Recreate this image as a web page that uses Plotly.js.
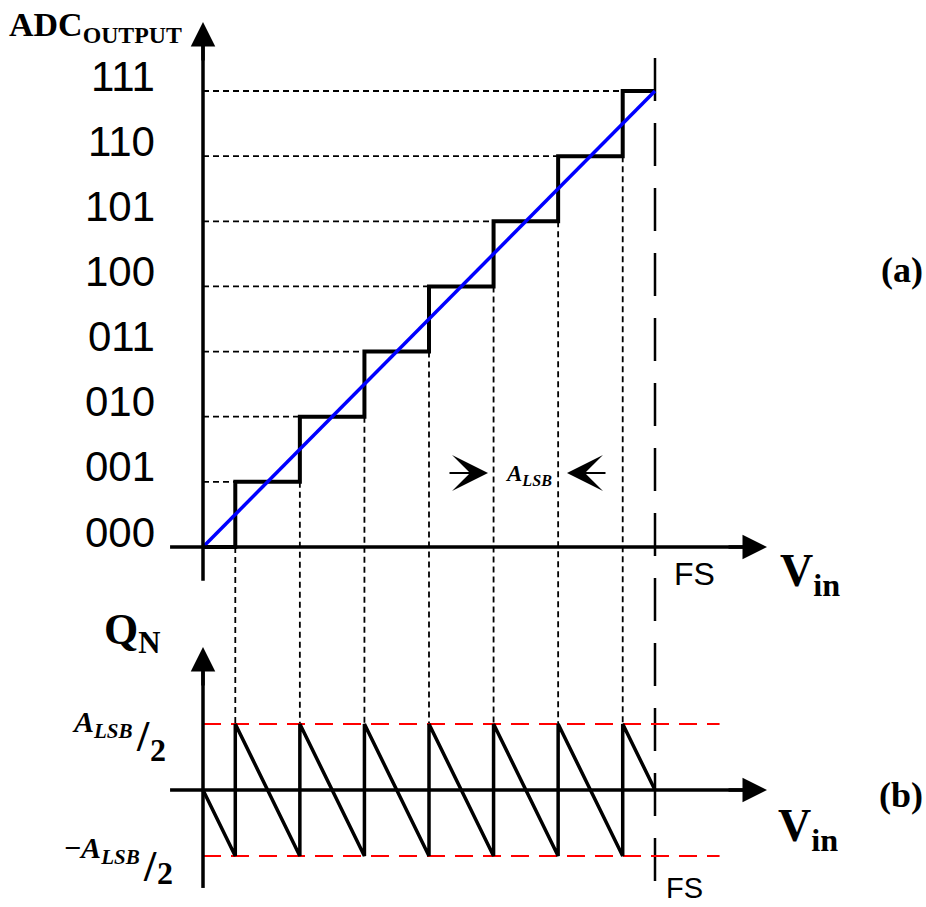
<!DOCTYPE html>
<html><head><meta charset="utf-8">
<script src="https://cdn.plot.ly/plotly-3.0.1.min.js"></script>
<style>html,body{margin:0;padding:0;background:#fff;} #chart{width:926px;height:907px;}</style>
</head><body><div id="chart"></div>
<script>
// ---------------- data ----------------
const codeLabels  = ['000','001','010','011','100','101','110','111'];
const codeValues  = [0,1,2,3,4,5,6,7];
const transitions = [0.5,1.5,2.5,3.5,4.5,5.5,6.5];          // Vin (in LSB) where the code steps up
const fullScale   = 7;                                     // FS (in LSB)
const vinStep  = [0,0.5,0.5,1.5,1.5,2.5,2.5,3.5,3.5,4.5,4.5,5.5,5.5,6.5,6.5,7];
const codeStep = [0,0,1,1,2,2,3,3,4,4,5,5,6,6,7,7];
const qnStep   = [0,-0.5,0.5,-0.5,0.5,-0.5,0.5,-0.5,0.5,-0.5,0.5,-0.5,0.5,-0.5,0.5,0];
const idealVin  = [0,7];
const idealCode = [0,7];
const qnLimits  = [0.5,-0.5];

// ---------------- geometry ----------------
const W=926,H=907;
const kx=(655-203)/7, ky=(547-91)/7, kq=132;
const xRange=[-203/kx,(W-203)/kx];
const yRange=[-(H-547)/ky,547/ky];
const qRange=[-(H-790)/kq,790/kq];
const pY=v=>(v-yRange[0])/(yRange[1]-yRange[0]);
const pQ=v=>(v-qRange[0])/(qRange[1]-qRange[0]);

const SERIF='Liberation Serif', SANS='Liberation Sans';

// dashed helper lines
const hDashX=[],hDashY=[];
codeValues.slice(1).forEach((c,i)=>{hDashX.push(0,transitions[i],null);hDashY.push(c,c,null);});
const redX=[],redY=[];
qnLimits.forEach(q=>{redX.push(0,8.0,null);redY.push(q,q,null);});

const traces=[
  {x:hDashX,y:hDashY,mode:'lines',line:{color:'#000',width:1.8,dash:'6px,4px'},hoverinfo:'skip'},
  {x:redX,y:redY,yaxis:'y2',mode:'lines',line:{color:'#ff0000',width:2,dash:'18px,10px'},hoverinfo:'skip'},
  {x:vinStep,y:codeStep,mode:'lines',line:{color:'#000',width:4}},
  {x:idealVin,y:idealCode,mode:'lines',line:{color:'#0000ff',width:3.5}},
  {x:vinStep,y:qnStep,yaxis:'y2',mode:'lines',line:{color:'#000',width:3.5}}
];

const shapes=[];
// axes lines
shapes.push({type:'line',xref:'x',yref:'y',x0:0,x1:0,y0:-0.52,y1:7.8,line:{color:'#000',width:3.5}});
shapes.push({type:'line',xref:'x',yref:'y',x0:-0.51,x1:8.5,y0:0,y1:0,line:{color:'#000',width:3.5}});
shapes.push({type:'line',xref:'x',yref:'y2',x0:0,x1:0,y0:-0.742,y1:0.9,line:{color:'#000',width:3.5}});
shapes.push({type:'line',xref:'x',yref:'y2',x0:-0.51,x1:8.5,y0:0,y1:0,line:{color:'#000',width:3.5}});
// vertical connectors
transitions.forEach((t,i)=>{
  shapes.push({type:'line',layer:'below',xref:'x',yref:'paper',x0:t,x1:t,y0:pY(codeValues[i]),y1:pQ(qnLimits[0]),
    line:{color:'#000',width:1.8,dash:'6px,4px'}});
});
// FS line
shapes.push({type:'line',layer:'below',xref:'x',yref:'paper',x0:fullScale,x1:fullScale,y0:pY(7.507),y1:pQ(-0.69),
  line:{color:'#000',width:2.5,dash:'43px,22px'}});

const ann=[];
const arrowHead=(x,y,yref,ax,ay)=>({x,y,xref:'x',yref,ax,ay,text:'',showarrow:true,arrowhead:2,arrowsize:1.4,arrowwidth:3.5,arrowcolor:'#000',standoff:0});
ann.push(arrowHead(0,(547-22)/ky,'y',0,40));
ann.push(arrowHead((767-203)/kx,0,'y',-40,0));
ann.push(arrowHead(0,(790-647)/kq,'y2',0,40));
ann.push(arrowHead((767-203)/kx,0,'y2',-40,0));
// A_LSB arrows
ann.push({x:(488-203)/kx,y:(547-473)/ky,xref:'x',yref:'y',ax:-40,ay:0,text:'',showarrow:true,arrowhead:3,arrowsize:3,arrowwidth:2,arrowcolor:'#000',standoff:0});
ann.push({x:(567-203)/kx,y:(547-473)/ky,xref:'x',yref:'y',ax:40,ay:0,text:'',showarrow:true,arrowhead:3,arrowsize:3,arrowwidth:2,arrowcolor:'#000',standoff:0});

// code tick labels
codeLabels.forEach((lab,i)=>{
  ann.push({xref:'paper',yref:'y',x:157/W,y:codeValues[i],yshift:15,text:lab,showarrow:false,
    xanchor:'right',yanchor:'middle',font:{family:SANS,size:42,color:'#000'}});
});
const T=(text,xp,yp,size,opts)=>Object.assign({xref:'paper',yref:'paper',x:xp/W,y:1-yp/H,text,showarrow:false,
  xanchor:'center',yanchor:'middle',font:{family:SERIF,size,color:'#000'}},opts||{});
ann.push(T('<b>ADC<sub>OUTPUT</sub></b>',7,27,34,{xanchor:'left'}));
ann.push(T('<b>V<sub>in</sub></b>',810,574,46));
ann.push(T('<b>V<sub>in</sub></b>',808,829,46));
ann.push(T('<b>Q<sub>N</sub></b>',132,632,44));
ann.push(T('<b>(a)</b>',902,270,36));
ann.push(T('<b>(b)</b>',901,795,36));
ann.push(T('FS',694,574,32,{font:{family:SANS,size:32,color:'#000'}}));
ann.push(T('FS',684,888,29,{font:{family:SANS,size:29,color:'#000'}}));
ann.push(T('<b><i>A<sub>LSB</sub></i></b>',528,475,23));
ann.push(T('<b><i>A<sub>LSB</sub></i></b>',135,724,30,{xanchor:'right'}));
ann.push(T('<b>/</b>',143,736,44));
ann.push(T('<b>2</b>',158,750,32));
ann.push(T('<b><i><span style="font-style:normal">−</span>A<sub>LSB</sub></i></b>',142,850,30,{xanchor:'right'}));
ann.push(T('<b>/</b>',150,866,44));
ann.push(T('<b>2</b>',165,873,32));

const layout={
  width:W,height:H,margin:{l:0,r:0,t:0,b:0},paper_bgcolor:'#fff',plot_bgcolor:'#fff',showlegend:false,
  xaxis:{range:xRange,visible:false,fixedrange:true},
  yaxis:{range:yRange,visible:false,fixedrange:true},
  yaxis2:{range:qRange,visible:false,overlaying:'y',fixedrange:true},
  shapes,annotations:ann
};
Plotly.newPlot('chart',traces,layout,{staticPlot:true,displayModeBar:false});
</script></body></html>
